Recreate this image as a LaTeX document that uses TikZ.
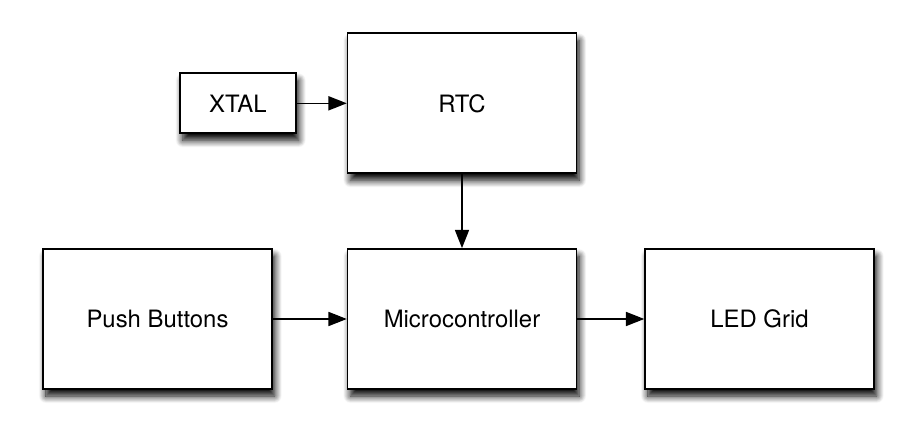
\documentclass[tikz,border=0pt]{standalone}
\usepackage{fontspec}
\setmainfont{TeX Gyre Heros}
\usetikzlibrary{arrows.meta, positioning, shadows.blur}

\begin{document}
\begin{tikzpicture}[
    blk/.style={rectangle, draw, fill=white, line width=1.2pt,
                minimum width=5.72cm, minimum height=3.5cm,
                font=\fontsize{17}{20}\selectfont,
                blur shadow={shadow xshift=2pt, shadow yshift=-5pt, shadow blur radius=5pt,
                             shadow blur steps=10, shadow opacity=100}},
    conn/.style={line width=1.1pt, -{Triangle[length=13pt, width=10pt]}}
]
    \useasboundingbox (-11.55,-2.975) rectangle (11.35,7.975);
    \node[blk] (mcu) at (0,0) {Microcontroller};
    \node[blk, left=1.85cm of mcu] (buttons) {Push Buttons};
    \node[blk, right=1.675cm of mcu] (grid) {LED Grid};
    \node[blk, above=1.85cm of mcu] (rtc) {RTC};
    \node[blk, minimum width=2.9cm, minimum height=1.5cm, left=1.25cm of rtc] (xtal) {XTAL};

    \draw[conn] (xtal) -- (rtc);
    \draw[conn] (rtc) -- (mcu);
    \draw[conn] (buttons) -- (mcu);
    \draw[conn] (mcu) -- (grid);
\end{tikzpicture}
\end{document}
